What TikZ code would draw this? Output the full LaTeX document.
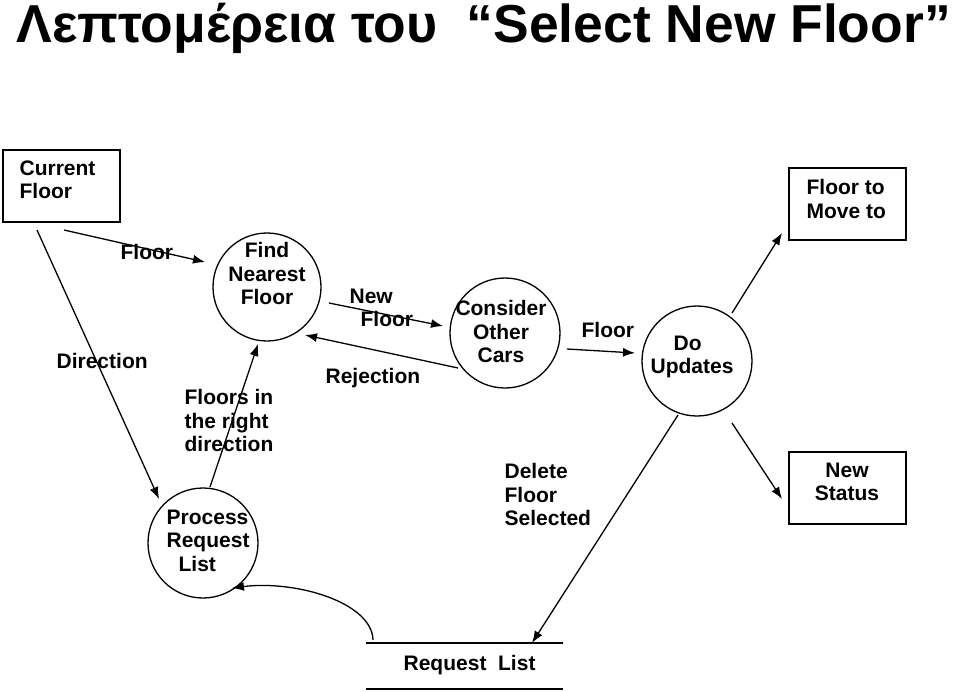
\documentclass[tikz,border=0pt]{standalone}
\usepackage{fontspec}
\setmainfont{Liberation Sans}
\usetikzlibrary{arrows.meta}
\begin{document}
\begin{tikzpicture}[x=1pt,y=-1pt, line width=1.3pt,
  font=\fontsize{21}{23.5}\selectfont\bfseries,
  box/.style={draw, rectangle, minimum width=117pt, minimum height=72pt, inner sep=0pt},
  proc/.style={draw, circle, minimum size=110pt, inner sep=0pt},
  lbl/.style={inner sep=0pt, anchor=north west, align=left},
  ctxt/.style={inner sep=0pt, anchor=north, align=center},
  arr/.style={-{Latex[length=12pt,width=9pt]}}]
\useasboundingbox (0,0) rectangle (960,691);

% title
\node[anchor=base west, inner sep=0pt] (title) at (16,42)
  {\resizebox{934pt}{!}{\fontsize{54}{60}\selectfont Λεπτομέρεια του \ “Select New Floor”}};

% external entities
\node[box] (cf) at (61.5,186) {};
\node[lbl] (cft) at (19,160) {Current\\Floor};
\node[box] (fmt) at (847.5,204) {};
\node[lbl] (fmtt) at (806,179) {Floor to\\Move to};
\node[box] (ns) at (847.5,488) {};
\node[ctxt] (nst) at (847,462) {New\\Status};

% processes
\node[proc, minimum size=108pt] (fnf) at (267,287) {};
\node[ctxt] (fnft) at (267,242) {Find\\Nearest\\Floor};
\node[proc] (prl) at (203,543) {};
\node[lbl] (prlt) at (166,509) {Process\\Request\\\hspace*{12pt}List};
\node[proc] (coc) at (505,333) {};
\node[ctxt] (coct) at (501,300) {Consider\\Other\\Cars};
\node[proc] (du) at (697,361) {};
\node[lbl] (dut) at (650,335) {\hspace*{23pt}Do\\Updates};

% data store
\node[lbl] (rl) at (403,655) {Request\ \ List};
\draw ([shift={(-37,-12)}]rl.north west) -- ++(197,0);
\draw ([shift={(-37,34)}]rl.north west) -- ++(197,0);

% flow labels
\node[lbl] (l1) at (120,244) {Floor};
\node[lbl] (l2) at (56,353) {Direction};
\node[lbl] (l3) at (184,389) {Floors in\\the right\\direction};
\node[lbl] (l4) at (349,288) {New\\\hspace*{11pt}Floor};
\node[lbl] (l5) at (325,368) {Rejection};
\node[lbl] (l6) at (581,322) {Floor};
\node[lbl] (l7) at (504,463) {Delete\\Floor\\Selected};

% flows
\draw[arr] ([shift={(2.5,44)}]cf.center) -- ([shift={(-62,-25)}]fnf.center);
\draw[arr] ([shift={(-24.5,44)}]cf.center) -- ([shift={(-44,-44)}]prl.center);
\draw[arr] ([shift={(7,-56)}]prl.center) -- ([shift={(-9,57)}]fnf.center);
\draw[arr] ([shift={(62,16)}]fnf.center) -- ([shift={(-62,-7)}]coc.center);
\draw[arr] ([shift={(-47,35)}]coc.center) -- ([shift={(38,48)}]fnf.center);
\draw[arr] ([shift={(62,16)}]coc.center) -- ([shift={(-62,-8)}]du.center);
\draw[arr] ([shift={(35,-48)}]du.center) -- ([shift={(-65.5,29)}]fmt.center);
\draw[arr] ([shift={(35,62)}]du.center) -- ([shift={(-65.5,11)}]ns.center);
\draw[arr] ([shift={(-19,54)}]du.center) -- ([shift={(129,-12)}]rl.north west);
\draw[arr] ([shift={(-30,-15)}]rl.north west) .. controls +(-1,-38) and +(63,-8) .. ([shift={(29,45)}]prl.center);
\end{tikzpicture}
\end{document}
